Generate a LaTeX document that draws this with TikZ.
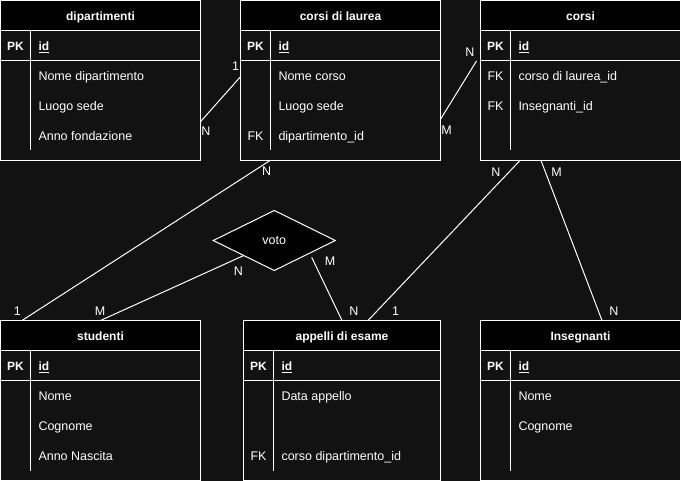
\documentclass[tikz,border=0pt]{standalone}
\usepackage{fontspec}
\setmainfont{Liberation Sans}
\usetikzlibrary{calc,shapes.geometric}
\definecolor{canvas}{HTML}{121212}

% one ER table: name, x, y (top left), width, title
\newcommand\entity[5]{%
  \node[tablebox, minimum width=#4pt] (#1) at (#2,#3) {};
  \fill[black] (#1.north west) rectangle ($(#1.north east)+(0,30)$);
  \draw[rule] (#1.north west) rectangle (#1.south east);
  \draw[rule] ($(#1.north west)+(0,30)$) -- ($(#1.north east)+(0,30)$);
  \draw[rule] ($(#1.north west)+(0,60)$) -- ($(#1.north east)+(0,60)$);
  \draw[rule] ($(#1.north west)+(30,30)$) -- ($(#1.north west)+(30,150)$);
  \node[titletxt] (#1-title) at ($(#1.north)+(0,20)$) {#5};
  \node[boldkey] (#1-pk) at ($(#1.north west)+(15,50)$) {PK};
  \node[boldfield] (#1-id) at ($(#1.north west)+(38,50)$) {\underline{id}};
}
% one attribute row: table, row number, key, field name
\newcommand\attr[4]{%
  \node[keytxt] (#1-k#2) at ($(#1.north west)+(15,#2*30+50)$) {#3};
  \node[fieldtxt] (#1-f#2) at ($(#1.north west)+(38,#2*30+50)$) {#4};
}

\begin{document}
\begin{tikzpicture}[x=1pt,y=-1pt,
  every node/.style={font=\fontsize{12.5pt}{14pt}\selectfont, text=white, inner sep=0pt, outer sep=0pt},
  tablebox/.style={rectangle, draw=white, line width=1pt, fill=canvas, minimum height=160pt, anchor=north west},
  titletxt/.style={font=\fontsize{12pt}{14pt}\selectfont\bfseries, anchor=base},
  keytxt/.style={anchor=base},
  boldkey/.style={anchor=base, font=\fontsize{12pt}{14pt}\selectfont\bfseries},
  fieldtxt/.style={anchor=base west},
  boldfield/.style={anchor=base west, font=\fontsize{12pt}{14pt}\selectfont\bfseries},
  rule/.style={draw=white, line width=1pt},
  link/.style={draw=white, line width=1pt},
  relation/.style={diamond, draw=white, fill=black, line width=1pt, minimum width=122pt, minimum height=60pt}
]
\useasboundingbox[fill=canvas] (0,0) rectangle (681,481);

% tables
\entity{dip}{0.5}{0.5}{200}{dipartimenti}
\attr{dip}{1}{}{Nome dipartimento}
\attr{dip}{2}{}{Luogo sede}
\attr{dip}{3}{}{Anno fondazione}

\entity{cdl}{240.5}{0.5}{200}{corsi di laurea}
\attr{cdl}{1}{}{Nome corso}
\attr{cdl}{2}{}{Luogo sede}
\attr{cdl}{3}{FK}{dipartimento\_id}

\entity{cor}{480.5}{0.5}{200}{corsi}
\attr{cor}{1}{FK}{corso di laurea\_id}
\attr{cor}{2}{FK}{Insegnanti\_id}

\entity{stu}{0.5}{320.5}{200}{studenti}
\attr{stu}{1}{}{Nome}
\attr{stu}{2}{}{Cognome}
\attr{stu}{3}{}{Anno Nascita}

\entity{app}{243.5}{320.5}{197}{appelli di esame}
\attr{app}{1}{}{Data appello}
\attr{app}{3}{FK}{corso dipartimento\_id}

\entity{ins}{480.5}{320.5}{200}{Insegnanti}
\attr{ins}{1}{}{Nome}
\attr{ins}{2}{}{Cognome}

% relationship
\node[relation] (voto) at (274.3,240.5) {voto};
\coordinate (cor-gap) at ($(cor.north west)+(-4,60.5)$);
\coordinate (voto-gap) at ($(voto.center)+(37.4,16.8)$);

% connectors
\draw[link] ($(dip.north east)+(0,121.2)$) -- ($(cdl.north west)+(0,76.2)$);
\draw[link] ($(cdl.north east)+(0,118.8)$) -- (cor-gap);
\draw[link] ($(cdl.south west)+(29.5,0)$) -- ($(stu.north west)+(21.5,0)$);
\draw[link] ($(voto.west)!0.5!(voto.south)$) -- (stu.north);
\draw[link] (voto-gap) -- (app.north);
\draw[link] ($(cor.south west)+(39.5,0)$) -- ($(app.north west)+(124.5,0)$);
\draw[link] ($(cor.south west)+(60.5,0)$) -- ($(ins.north west)+(121.5,0)$);

% cardinalities
\node (c1a) at (235.7,66.7) {1};
\node (c1b) at (206,131.7) {N};
\node (c2a) at (470,52.7) {N};
\node (c2b) at (446.7,130.5) {M};
\node (c3a) at (266.7,171.7) {N};
\node (c3b) at (17.4,311) {1};
\node (c4a) at (238.3,271) {N};
\node (c4b) at (100,311) {M};
\node (c5a) at (330,261.7) {M};
\node (c5b) at (354,311.7) {N};
\node (c6a) at (496,172) {N};
\node (c6b) at (395.6,311) {1};
\node (c7a) at (556.7,172) {M};
\node (c7b) at (614,311) {N};
\end{tikzpicture}
\end{document}
